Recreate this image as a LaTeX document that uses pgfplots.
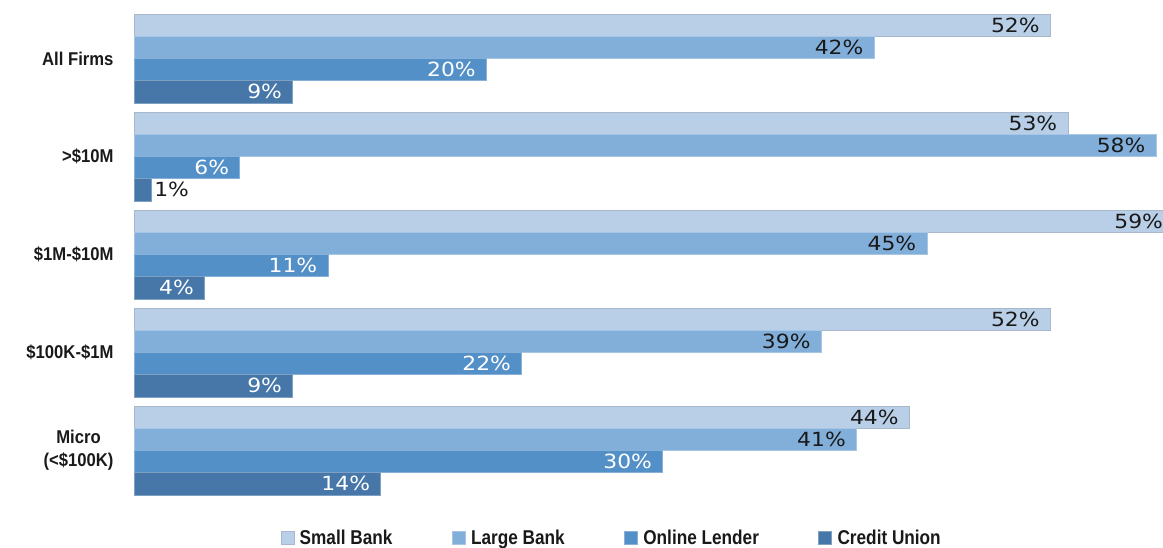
\documentclass[border=0pt]{standalone}
\usepackage{pgfplots}
\pgfplotsset{compat=1.18}
\usepackage{fontspec}
\setmainfont{Liberation Sans}
\newfontfamily\valfont[FakeStretch=1.12]{DejaVu Sans}
\newfontfamily\labfont[FakeStretch=0.9]{Liberation Sans Bold}
\newfontfamily\legfont[FakeStretch=0.86]{Liberation Sans Bold}
\definecolor{cSB}{HTML}{B9CFE8}
\definecolor{cLB}{HTML}{82AEDA}
\definecolor{cOL}{HTML}{5490C8}
\definecolor{cCU}{HTML}{4677A8}
\begin{document}
\begin{tikzpicture}
\begin{axis}[
  at={(134pt,47.5pt)}, anchor=south west,
  scale only axis, width=1029pt, height=490pt,
  xmin=0, xmax=58.4, ymin=-0.5, ymax=4.5, y dir=reverse,
  clip=false,
  axis line style={draw=none},
  xtick=\empty,
  ytick={0,1,2,3,4},
  yticklabels={All Firms, >\$10M, \$1M-\$10M, \$100K-\$1M, {Micro\\(<\$100K)}},
  yticklabel style={align=center, font=\labfont\fontsize{18.5}{23}\selectfont, xshift=-17pt, text=black!90},
  major tick length=0pt,
  bar width=0.227,
  point meta=x,
  nodes near coords={\pgfmathprintnumber[assume math mode=true]{\pgfplotspointmeta}\%},
  every node near coord/.append style={font=\valfont\fontsize{19.5}{24}\selectfont, anchor=east, xshift=-7pt},
  legend columns=4,
  legend style={at={(0.464,-0.058)}, anchor=north, draw=none, fill=none,
    inner sep=0pt,
    font=\legfont\fontsize{20}{22}\selectfont,
    nodes={inner sep=1.5pt, text=black!90},
    /tikz/every even column/.append style={column sep=58pt}},
  legend image code/.code={\fill[#1] (0pt,-6.5pt) rectangle (13pt,6.5pt); \path (17pt,0pt);},
]
\addplot[xbar, bar shift=0, fill=cSB, draw=cSB!70!gray, line width=0.6pt,
  every node near coord/.append style={text=black!90}]
  coordinates {(52,-0.3405) (53,0.6595) (59,1.6595) (52,2.6595) (44,3.6595)};
\addlegendentry{Small Bank}
\addplot[xbar, bar shift=0, fill=cLB, draw=cLB!70!white, line width=0.6pt,
  every node near coord/.append style={text=black!90}]
  coordinates {(42,-0.1135) (58,0.8865) (45,1.8865) (39,2.8865) (41,3.8865)};
\addlegendentry{Large Bank}
\addplot[xbar, bar shift=0, fill=cOL, draw=cOL!70!white, line width=0.6pt,
  every node near coord/.append style={text=white}]
  coordinates {(20,0.1135) (6,1.1135) (11,2.1135) (22,3.1135) (30,4.1135)};
\addlegendentry{Online Lender}
\addplot[xbar, bar shift=0, fill=cCU, draw=cCU!70!white, line width=0.6pt,
  every node near coord/.append style={text=white}]
  coordinates {(9,0.3405) (4,2.3405) (9,3.3405) (14,4.3405)};
\addlegendentry{Credit Union}
\addplot[xbar, forget plot, bar shift=0, fill=cCU, draw=cCU!70!white, line width=0.6pt,
  every node near coord/.append style={text=black!90, anchor=west, xshift=6pt}]
  coordinates {(1,1.3405)};
\end{axis}
\pgfresetboundingbox
\path[use as bounding box] (0,0) rectangle (1163pt,547pt);
\end{tikzpicture}
\end{document}
